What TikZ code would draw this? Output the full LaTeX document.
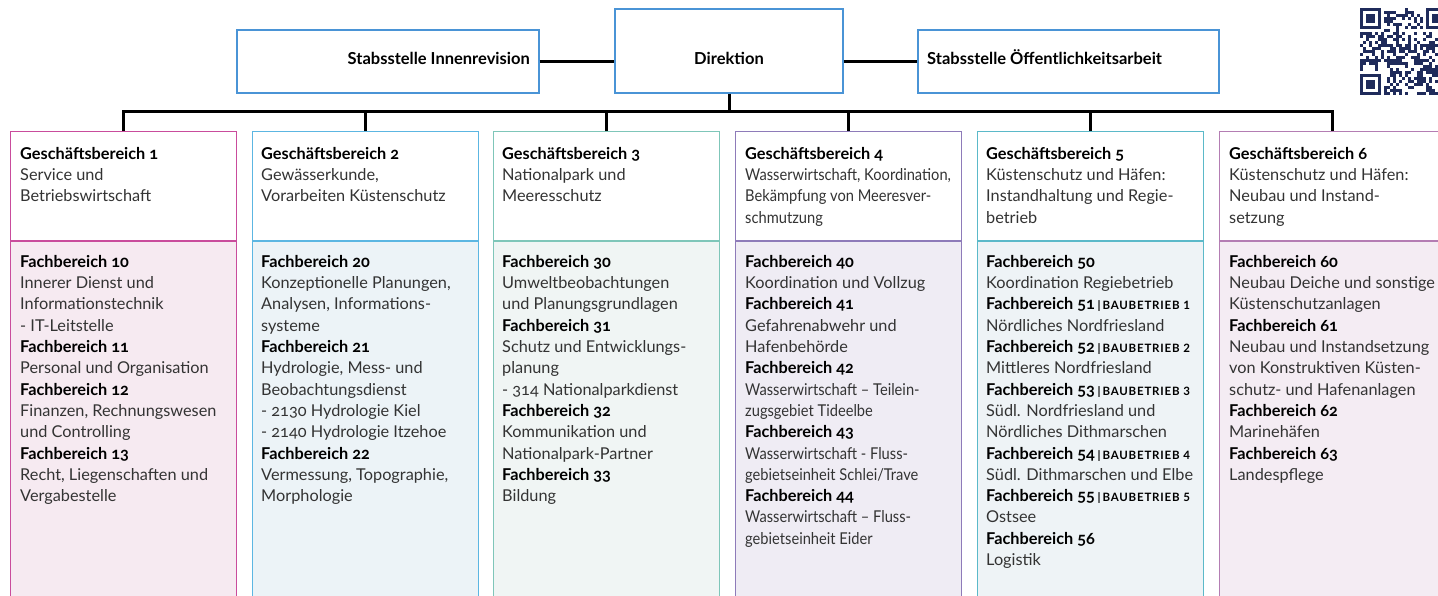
\documentclass[tikz,border=0pt]{standalone}
\usepackage{graphicx}
\usepackage{fontspec}
\setmainfont{Lato}[Numbers=OldStyle]
\definecolor{linie}{HTML}{4A94D6}
\definecolor{rand1}{HTML}{C94C9C}\definecolor{fill1}{HTML}{F6EAF1}
\definecolor{rand2}{HTML}{5CB6E2}\definecolor{fill2}{HTML}{ECF3F7}
\definecolor{rand3}{HTML}{7FC6B9}\definecolor{fill3}{HTML}{F0F5F4}
\definecolor{rand4}{HTML}{8E7BB9}\definecolor{fill4}{HTML}{EFECF4}
\definecolor{rand5}{HTML}{5BB9C9}\definecolor{fill5}{HTML}{EEF3F6}
\definecolor{rand6}{HTML}{B47DB3}\definecolor{fill6}{HTML}{F4ECF3}
\definecolor{qrblau}{HTML}{1F2B5B}
\definecolor{textgrau}{HTML}{333333}
\newcommand{\gb}[1]{\textbf{\color{black}Geschäftsbereich #1}}
\newcommand{\fb}[1]{\textbf{\color{black}Fachbereich #1}}
\newcommand{\bb}[1]{\,{\fontsize{11.5}{12}\selectfont\bfseries\addfontfeatures{Numbers=Lining,LetterSpace=7}\color{black}|\,BAUBETRIEB #1}}
\newcommand{\kl}[1]{\scalebox{0.9}[1]{#1}}
\begin{document}
\begin{tikzpicture}[x=1pt,y=-1pt,
    stab/.style={draw=linie, line width=1.2pt, fill=white, inner sep=0},
    stabtext/.style={font=\fontsize{16.5}{19}\selectfont\bfseries, inner sep=0},
    kopf/.style={draw=rand#1, fill=white, line width=1.2pt, minimum width=226, minimum height=109, anchor=north west, inner sep=0},
    feld/.style={draw=rand#1, fill=fill#1, line width=1.2pt, minimum width=226, minimum height=380, anchor=north west, inner sep=0},
    inhalt/.style={anchor=north west, align=left, inner sep=0, font=\fontsize{16.3}{21.3}\selectfont, text=textgrau},
    verbinder/.style={line width=3pt}]
\useasboundingbox (0,0) rectangle (1438,595);

% Leitung und Stabsstellen
\node[stab, minimum width=302, minimum height=63] (rev) at (388,61.5) {};
\node[stab, minimum width=228, minimum height=84] (dir) at (729,51) {};
\node[stab, minimum width=301, minimum height=63] (oeff) at (1068.5,61.5) {};
\node[stabtext, anchor=east] (revtxt) at (530,58) {Stabsstelle Innenrevision};
\node[stabtext] (dirtxt) at (729,58) {Direktion};
\node[stabtext, anchor=west] (oefftxt) at (927,57) {Stabsstelle Öffentlichkeitsarbeit};
\draw[verbinder] (rev.east) -- (rev.east -| dir.west);
\draw[verbinder] (dir.east |- oeff.west) -- (oeff.west);

% Geschaeftsbereiche
\node[kopf=1] (gb1) at (10,131) {};
\node[kopf=2] (gb2) at (252,131) {};
\node[kopf=3] (gb3) at (493,131) {};
\node[kopf=4] (gb4) at (735,131) {};
\node[kopf=5] (gb5) at (977,131) {};
\node[kopf=6] (gb6) at (1219,131) {};
\node[feld=1] (fb1) at (gb1.south west) {};
\node[feld=2] (fb2) at (gb2.south west) {};
\node[feld=3] (fb3) at (gb3.south west) {};
\node[feld=4] (fb4) at (gb4.south west) {};
\node[feld=5] (fb5) at (gb5.south west) {};
\node[feld=6] (fb6) at (gb6.south west) {};

\coordinate (bus) at (0,111);
\draw[verbinder] (dir.south) -- (dir.south |- bus);
\draw[verbinder] (gb1.north) -- (gb1.north |- bus) -- (gb6.north |- bus) -- (gb6.north);
\foreach \n in {2,...,5}
  \draw[verbinder] (gb\n.north) -- (gb\n.north |- bus);

\node[inhalt] (gb1txt) at (20,147) {\gb{1}\\Service und\\Betriebswirtschaft};
\node[inhalt] (gb2txt) at (261,147) {\gb{2}\\Gewässerkunde,\\Vorarbeiten Küstenschutz};
\node[inhalt] (gb3txt) at (502,147) {\gb{3}\\Nationalpark und\\Meeresschutz};
\node[inhalt] (gb4txt) at (745,147) {\gb{4}\\\kl{Wasserwirtschaft, Koordination,}\\\kl{Bekämpfung von Meeresver-}\\\kl{schmutzung}};
\node[inhalt] (gb5txt) at (986,147) {\gb{5}\\Küstenschutz und Häfen:\\Instandhaltung und Regie-\\betrieb};
\node[inhalt] (gb6txt) at (1229,147) {\gb{6}\\Küstenschutz und Häfen:\\Neubau und Instand-\\setzung};

% Fachbereiche
\node[inhalt] (fb1txt) at (20,255) {\fb{10}\\Innerer Dienst und\\Informationstechnik\\- IT-Leitstelle\\\fb{11}\\Personal und Organisation\\\fb{12}\\Finanzen, Rechnungswesen\\und Controlling\\\fb{13}\\Recht, Liegenschaften und\\Vergabestelle};
\node[inhalt] (fb2txt) at (261,255) {\fb{20}\\Konzeptionelle Planungen,\\Analysen, Informations-\\systeme\\\fb{21}\\Hydrologie, Mess- und\\Beobachtungsdienst\\- 2130 Hydrologie Kiel\\- 2140 Hydrologie Itzehoe\\\fb{22}\\Vermessung, Topographie,\\Morphologie};
\node[inhalt] (fb3txt) at (502,255) {\fb{30}\\Umweltbeobachtungen\\und Planungsgrundlagen\\\fb{31}\\Schutz und Entwicklungs-\\planung\\- 314 Nationalparkdienst\\\fb{32}\\Kommunikation und\\Nationalpark-Partner\\\fb{33}\\Bildung};
\node[inhalt] (fb4txt) at (745,255) {\fb{40}\\Koordination und Vollzug\\\fb{41}\\Gefahrenabwehr und\\Hafenbehörde\\\fb{42}\\\kl{Wasserwirtschaft – Teilein-}\\\kl{zugsgebiet Tideelbe}\\\fb{43}\\\kl{Wasserwirtschaft - Fluss-}\\\kl{gebietseinheit Schlei/Trave}\\\fb{44}\\\kl{Wasserwirtschaft – Fluss-}\\\kl{gebietseinheit Eider}};
\node[inhalt] (fb5txt) at (986,255) {\fb{50}\\Koordination Regiebetrieb\\\fb{51}\bb{1}\\Nördliches Nordfriesland\\\fb{52}\bb{2}\\Mittleres Nordfriesland\\\fb{53}\bb{3}\\Südl. Nordfriesland und\\Nördliches Dithmarschen\\\fb{54}\bb{4}\\Südl. Dithmarschen und Elbe\\\fb{55}\bb{5}\\Ostsee\\\fb{56}\\Logistik};
\node[inhalt] (fb6txt) at (1229,255) {\fb{60}\\Neubau Deiche und sonstige\\Küstenschutzanlagen\\\fb{61}\\Neubau und Instandsetzung\\von Konstruktiven Küsten-\\schutz- und Hafenanlagen\\\fb{62}\\Marinehäfen\\\fb{63}\\Landespflege};

% QR-Code
\begin{scope}[shift={(1360,8)}, x=3pt, y=-3pt]
  \pgfmathsetseed{17}
  \foreach \i in {0,...,28}
    \foreach \j in {0,...,28} {
      \pgfmathrandominteger{\r}{0}{1}
      \pgfmathtruncatemacro{\setz}{((\i<8)&&(\j<8))||((\i>20)&&(\j<8))||((\i<8)&&(\j>20)) ? 0 : \r}
      \ifnum\setz=1 \fill[qrblau] (\i,\j) rectangle ++(1,1); \fi
    }
  \foreach \fx/\fy in {0/0,22/0,0/22} {
    \fill[qrblau] (\fx,\fy) rectangle ++(7,7);
    \fill[white] (\fx+1,\fy+1) rectangle ++(5,5);
    \fill[qrblau] (\fx+2,\fy+2) rectangle ++(3,3);
  }
\end{scope}
\end{tikzpicture}
\end{document}
